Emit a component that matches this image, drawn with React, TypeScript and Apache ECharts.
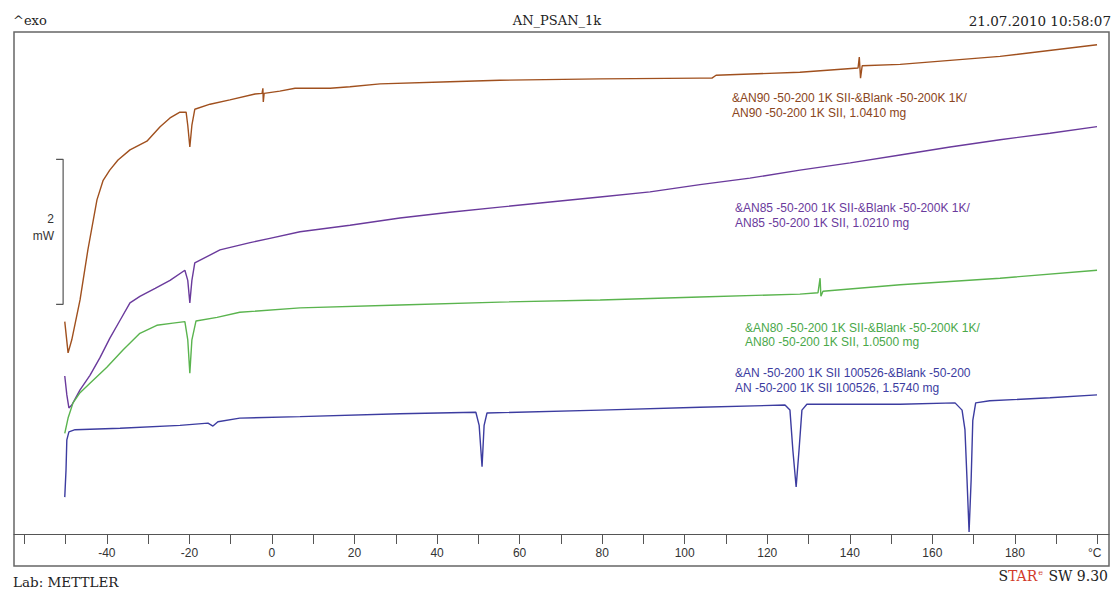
import React, { useEffect, useRef } from "react";
import * as echarts from "echarts";

// Temperatures (°C) and heat flow (mW, offset traces)
const an90T = [-50.2,-49.4,-48.5,-46.5,-44.6,-42.4,-40.9,-39.3,-37.3,-34.4,-30.3,-27.1,-24.7,-22.3,-20.8,-20.4,-19.9,-19.4,-18.7,-15.0,-10.2,-4.1,-2.4,-2.2,-2.1,-1.9,1.9,5.6,14.1,18.9,26.2,43.1,55.2,79.5,103.7,106.6,107.6,127.9,142.0,142.3,142.6,143.0,152.2,176.4,199.9];
const an90Q = [3.37,2.94,3.12,3.67,4.36,5.05,5.32,5.46,5.60,5.74,5.86,6.06,6.18,6.26,6.26,6.08,5.78,6.08,6.30,6.37,6.43,6.51,6.52,6.59,6.40,6.52,6.55,6.59,6.59,6.61,6.65,6.68,6.70,6.72,6.73,6.73,6.77,6.81,6.87,7.02,6.73,6.90,6.92,7.03,7.19];

const an85T = [-50.2,-49.7,-49.2,-48.5,-46.5,-44.1,-41.7,-39.3,-36.8,-34.4,-32.0,-28.3,-24.7,-21.1,-20.4,-19.9,-19.4,-18.7,-12.6,-5.3,-0.5,6.8,18.9,31.0,43.1,55.2,67.4,79.5,91.6,103.7,115.8,127.9,140.1,152.2,164.3,176.4,188.5,199.9];
const an85Q = [2.62,2.36,2.18,2.22,2.43,2.63,2.87,3.14,3.39,3.63,3.72,3.83,3.94,4.08,3.94,3.63,3.94,4.18,4.36,4.46,4.52,4.61,4.70,4.80,4.88,4.95,5.02,5.09,5.16,5.26,5.35,5.46,5.56,5.67,5.78,5.88,5.97,6.06];

const an80T = [-50.2,-49.4,-48.2,-46.5,-44.1,-40.0,-36.1,-32.0,-27.9,-24.0,-21.1,-20.4,-19.9,-19.4,-18.4,-13.3,-7.8,6.8,31.0,55.2,79.5,103.7,127.9,132.3,132.8,133.0,133.5,152.2,176.4,199.9];
const an80Q = [1.83,2.04,2.25,2.39,2.52,2.74,2.98,3.21,3.32,3.35,3.37,3.12,2.66,3.12,3.38,3.43,3.50,3.56,3.60,3.64,3.67,3.71,3.75,3.77,3.97,3.72,3.79,3.88,3.97,4.08];

const anT = [-50.2,-49.9,-49.7,-49.2,-47.7,-36.8,-22.3,-15.5,-14.3,-13.1,-7.8,6.8,31.0,49.4,50.2,50.9,51.4,52.1,79.5,103.7,124.3,125.5,126.2,127.0,127.7,128.4,129.6,152.2,165.5,167.2,167.9,168.4,168.9,169.4,169.8,170.5,173.9,188.5,199.9];
const anQ = [0.95,1.32,1.74,1.85,1.88,1.90,1.94,1.97,1.93,1.99,2.04,2.06,2.10,2.12,1.94,1.37,1.94,2.11,2.15,2.19,2.22,2.15,1.60,1.09,1.60,2.15,2.23,2.23,2.25,2.15,1.88,1.19,0.47,1.19,2.01,2.25,2.28,2.32,2.36];

// 2 mW scale bar
const scaleBarT = [-52.3, -50.6, -50.6, -52.3];
const scaleBarQ = [5.61, 5.61, 3.61, 3.61];

const tickValues = [-60,-50,-40,-30,-20,-10,0,10,20,30,40,50,60,70,80,90,100,110,120,130,140,150,160,170,180,190,200];
const labelValues = [-40,-20,0,20,40,60,80,100,120,140,160,180];

const label90 = ["&AN90 -50-200 1K SII-&Blank -50-200K 1K/", "AN90 -50-200 1K SII, 1.0410 mg"];
const label85 = ["&AN85 -50-200 1K SII-&Blank -50-200K 1K/", "AN85 -50-200 1K SII, 1.0210 mg"];
const label80 = ["&AN80 -50-200 1K SII-&Blank -50-200K 1K/", "AN80 -50-200 1K SII, 1.0500 mg"];
const labelAN = ["&AN -50-200 1K SII 100526-&Blank -50-200", "AN -50-200 1K SII 100526, 1.5740 mg"];

const zip = (a: number[], b: number[]) => a.map((v, i) => [v, b[i]]);

const C90 = "#a0501e";
const C85 = "#6a3a9c";
const C80 = "#5ab44e";
const CAN = "#3c3ca0";

export default function App() {
  const ref = useRef<HTMLDivElement>(null);
  useEffect(() => {
    document.body.style.margin = "0";
    const chart = echarts.init(ref.current!, null, { renderer: "svg" });
    const sans = "Liberation Sans, Arial, sans-serif";
    const serif = "DejaVu Serif, serif";
    const lineSeries = (name: string, data: number[][], color: string) => ({
      name,
      type: "line",
      data,
      showSymbol: false,
      symbol: "none",
      lineStyle: { color, width: 1.4 },
      z: 3,
    });
    const txt = (x: number, y: number, text: string, color: string, extra: any = {}) => ({
      type: "text",
      x,
      y,
      style: {
        text,
        fill: color,
        font: extra.font || `12px ${sans}`,
        textAlign: extra.align || "left",
        textVerticalAlign: "middle",
      },
    });
    chart.setOption({
      animation: false,
      backgroundColor: "#ffffff",
      grid: { left: 14, top: 32, width: 1095, height: 502, containLabel: false },
      xAxis: {
        type: "value",
        min: -62.5,
        max: 202.8,
        axisLine: { show: true, lineStyle: { color: "#555", width: 1 } },
        axisTick: { show: true, length: 10, customValues: tickValues, lineStyle: { color: "#555" } },
        axisLabel: { customValues: labelValues, margin: 13, color: "#333", fontSize: 12, fontFamily: sans },
        splitLine: { show: false },
      },
      yAxis: { type: "value", min: 0.441, max: 7.366, show: false },
      series: [
        lineSeries("AN90", zip(an90T, an90Q), C90),
        lineSeries("AN85", zip(an85T, an85Q), C85),
        lineSeries("AN80", zip(an80T, an80Q), C80),
        lineSeries("AN", zip(anT, anQ), CAN),
        {
          name: "scale",
          type: "line",
          data: zip(scaleBarT, scaleBarQ),
          showSymbol: false,
          symbol: "none",
          lineStyle: { color: "#555", width: 1.2 },
        },
      ],
      graphic: [
        {
          type: "rect",
          shape: { x: 14, y: 32, width: 1095, height: 534 },
          style: { fill: "none", stroke: "#666", lineWidth: 1.5 },
          silent: true,
        },
        txt(13, 20, "^exo", "#222", { font: `13px ${serif}` }),
        txt(557, 20, "AN_PSAN_1k", "#222", { font: `13px ${serif}`, align: "center" }),
        txt(1111, 21, "21.07.2010 10:58:07", "#222", { font: `13.5px ${serif}`, align: "right" }),
        txt(13, 582, "Lab: METTLER", "#222", { font: `13.5px ${serif}` }),
        {
          type: "text",
          x: 1108,
          y: 576,
          style: {
            text: "{d|S}{r|TAR}{s|e}{d| SW 9.30}",
            textAlign: "right",
            textVerticalAlign: "middle",
            rich: {
              d: { fill: "#222", font: `14px ${serif}` },
              r: { fill: "#d23a2a", font: `14px ${serif}` },
              s: { fill: "#d23a2a", font: `8px ${serif}`, verticalAlign: "top", padding: [0, 1, 8, 1] },
            },
          },
        },
        txt(1088, 553, "°C", "#333"),
        txt(54, 219, "2", "#333", { align: "right" }),
        txt(54, 236, "mW", "#333", { align: "right" }),
        txt(732, 98, label90[0], "#8a4520"),
        txt(732, 113, label90[1], "#8a4520"),
        txt(735, 208, label85[0], C85),
        txt(735, 223, label85[1], C85),
        txt(745, 328, label80[0], "#4aa84a"),
        txt(745, 342, label80[1], "#4aa84a"),
        txt(735, 373, labelAN[0], CAN),
        txt(735, 388, labelAN[1], CAN),
      ],
    });
    return () => chart.dispose();
  }, []);
  return <div ref={ref} style={{ width: 1115, height: 590 }} />;
}
